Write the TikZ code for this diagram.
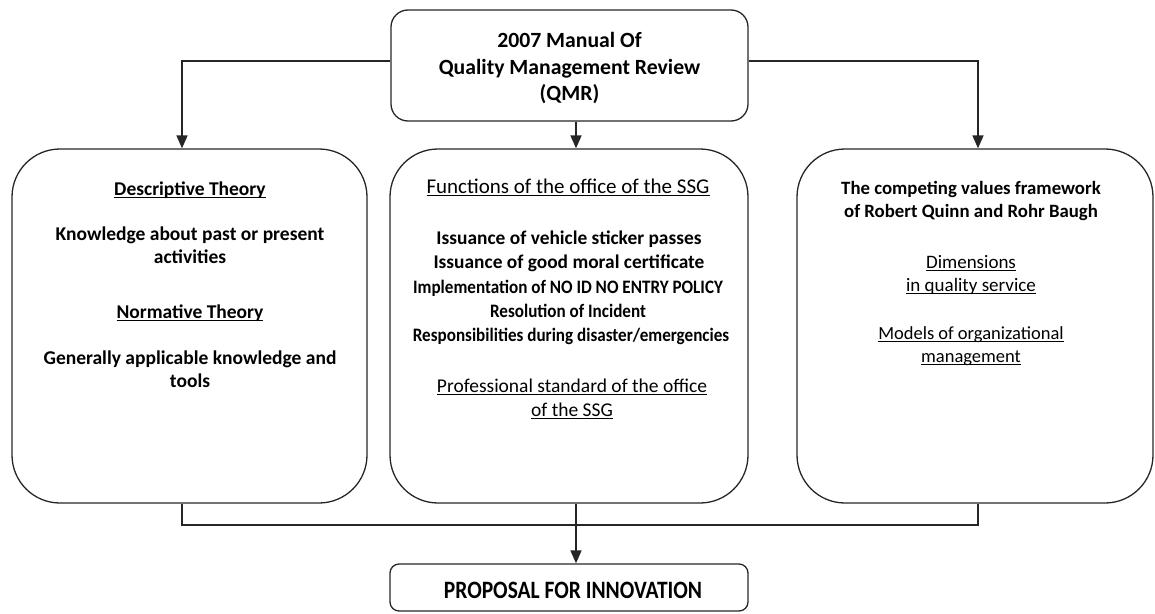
\documentclass[tikz,border=0pt]{standalone}
\usepackage{fontspec}
\setmainfont{Carlito}
\newfontfamily\condfont{Carlito}[FakeStretch=0.9]
\newfontfamily\narrowfont{Carlito}[FakeStretch=0.86]
\usetikzlibrary{arrows.meta}
\newcommand\myul[1]{\setbox0\hbox{#1}\rlap{\rule[-2.8pt]{\wd0}{0.9pt}}\box0}
\tikzset{
  box/.style={draw=black!85, line width=1.3pt, inner sep=0pt},
  bigbox/.style={box, minimum height=354pt, rounded corners=48pt},
  conn/.style={draw=black!85, line width=1.6pt},
  arr/.style={conn, -{Triangle[width=11pt,length=13pt]}},
  txt/.style={anchor=base, inner sep=0pt, font=\bfseries\fontsize{19.5}{22}\selectfont},
  rtxt/.style={anchor=base, inner sep=0pt, font=\bfseries\fontsize{18.8}{22}\selectfont},
  ttxt/.style={anchor=base, inner sep=0pt, font=\bfseries\fontsize{21.7}{24}\selectfont},
  itxt/.style={anchor=base, inner sep=0pt, font=\bfseries\fontsize{19.4}{22}\selectfont},
  ctxt/.style={anchor=base, inner sep=0pt, font=\condfont\bfseries\fontsize{19}{22}\selectfont},
  utxt/.style={anchor=base, inner sep=0pt, font=\fontsize{19.5}{22}\selectfont},
}
\begin{document}
\begin{tikzpicture}[x=1pt,y=-1pt]
\useasboundingbox (0,0) rectangle (1155,613);
% boxes
\node[box, rounded corners=17pt, minimum width=357pt, minimum height=111pt] (top) at (569.5,65.5) {};
\node[bigbox, minimum width=355pt] (left) at (189.5,326) {};
\node[bigbox, minimum width=358pt] (mid) at (569,326) {};
\node[bigbox, minimum width=356pt] (right) at (975,326) {};
\node[box, rounded corners=9pt, minimum width=358pt, minimum height=47pt] (bot) at (569,587.5) {};
% top text
\node[ttxt] (t1) at (569.5,47) {2007 Manual Of};
\node[ttxt] (t2) at (569.5,74) {Quality Management Review};
\node[ttxt] (t3) at (569.5,100) {(QMR)};
% left text
\node[txt] (l1) at (190,195) {\myul{Descriptive Theory}};
\node[txt] (l2) at (190,240) {Knowledge about past or present};
\node[txt] (l3) at (190,263) {activities};
\node[txt] (l4) at (190,318) {\myul{Normative Theory}};
\node[txt] (l5) at (190,364) {Generally applicable knowledge and};
\node[txt] (l6) at (190,387) {tools};
% middle text
\node[utxt, font=\fontsize{21}{24}\selectfont] (m1) at (568,193) {\myul{Functions of the office of the SSG}};
\node[itxt] (m2) at (569,244) {Issuance of vehicle sticker passes};
\node[itxt] (m3) at (569,268) {Issuance of good moral certificate};
\node[ctxt] (m4) at (568,293) {Implementation of NO ID NO ENTRY POLICY};
\node[ctxt] (m5) at (568,317) {Resolution of Incident};
\node[ctxt] (m6) at (571,341) {Responsibilities during disaster/emergencies};
\node[utxt] (m7) at (572,392) {\myul{Professional standard of the office}};
\node[utxt] (m8) at (572,416) {\myul{of the SSG}};
% right text
\node[rtxt] (r1) at (971,194) {The competing values framework};
\node[rtxt] (r2) at (971,217) {of Robert Quinn and Rohr Baugh};
\node[utxt, font=\fontsize{19}{22}\selectfont] (r3) at (971,268) {\myul{Dimensions}};
\node[utxt, font=\fontsize{19}{22}\selectfont] (r4) at (971,291) {\myul{in quality service}};
\node[utxt, font=\fontsize{18.5}{22}\selectfont] (r5) at (971,339) {\myul{Models of organizational}};
\node[utxt, font=\fontsize{18.5}{22}\selectfont] (r6) at (971,362) {\myul{management}};
% bottom text
\node[anchor=base, inner sep=0pt, font=\narrowfont\bfseries\fontsize{25}{28}\selectfont] (b1) at (573,598) {PROPOSAL FOR INNOVATION};
% connectors
\draw[arr] ([yshift=4.5pt]top.west) -| ([xshift=-7.5pt]left.north);
\draw[arr] ([yshift=4.5pt]top.east) -| ([xshift=3pt]right.north);
\draw[arr] ([xshift=6.5pt]top.south) -- ([xshift=7pt]mid.north);
\coordinate (bus) at (576,525);
\draw[conn, line width=2.2pt] ([xshift=-7.5pt]left.south) |- (bus) -| ([xshift=3pt]right.south);
\draw[conn] ([xshift=7pt]mid.south) -- (bus);
\draw[arr] (bus) -- ([xshift=7pt]bot.north);
\end{tikzpicture}
\end{document}
